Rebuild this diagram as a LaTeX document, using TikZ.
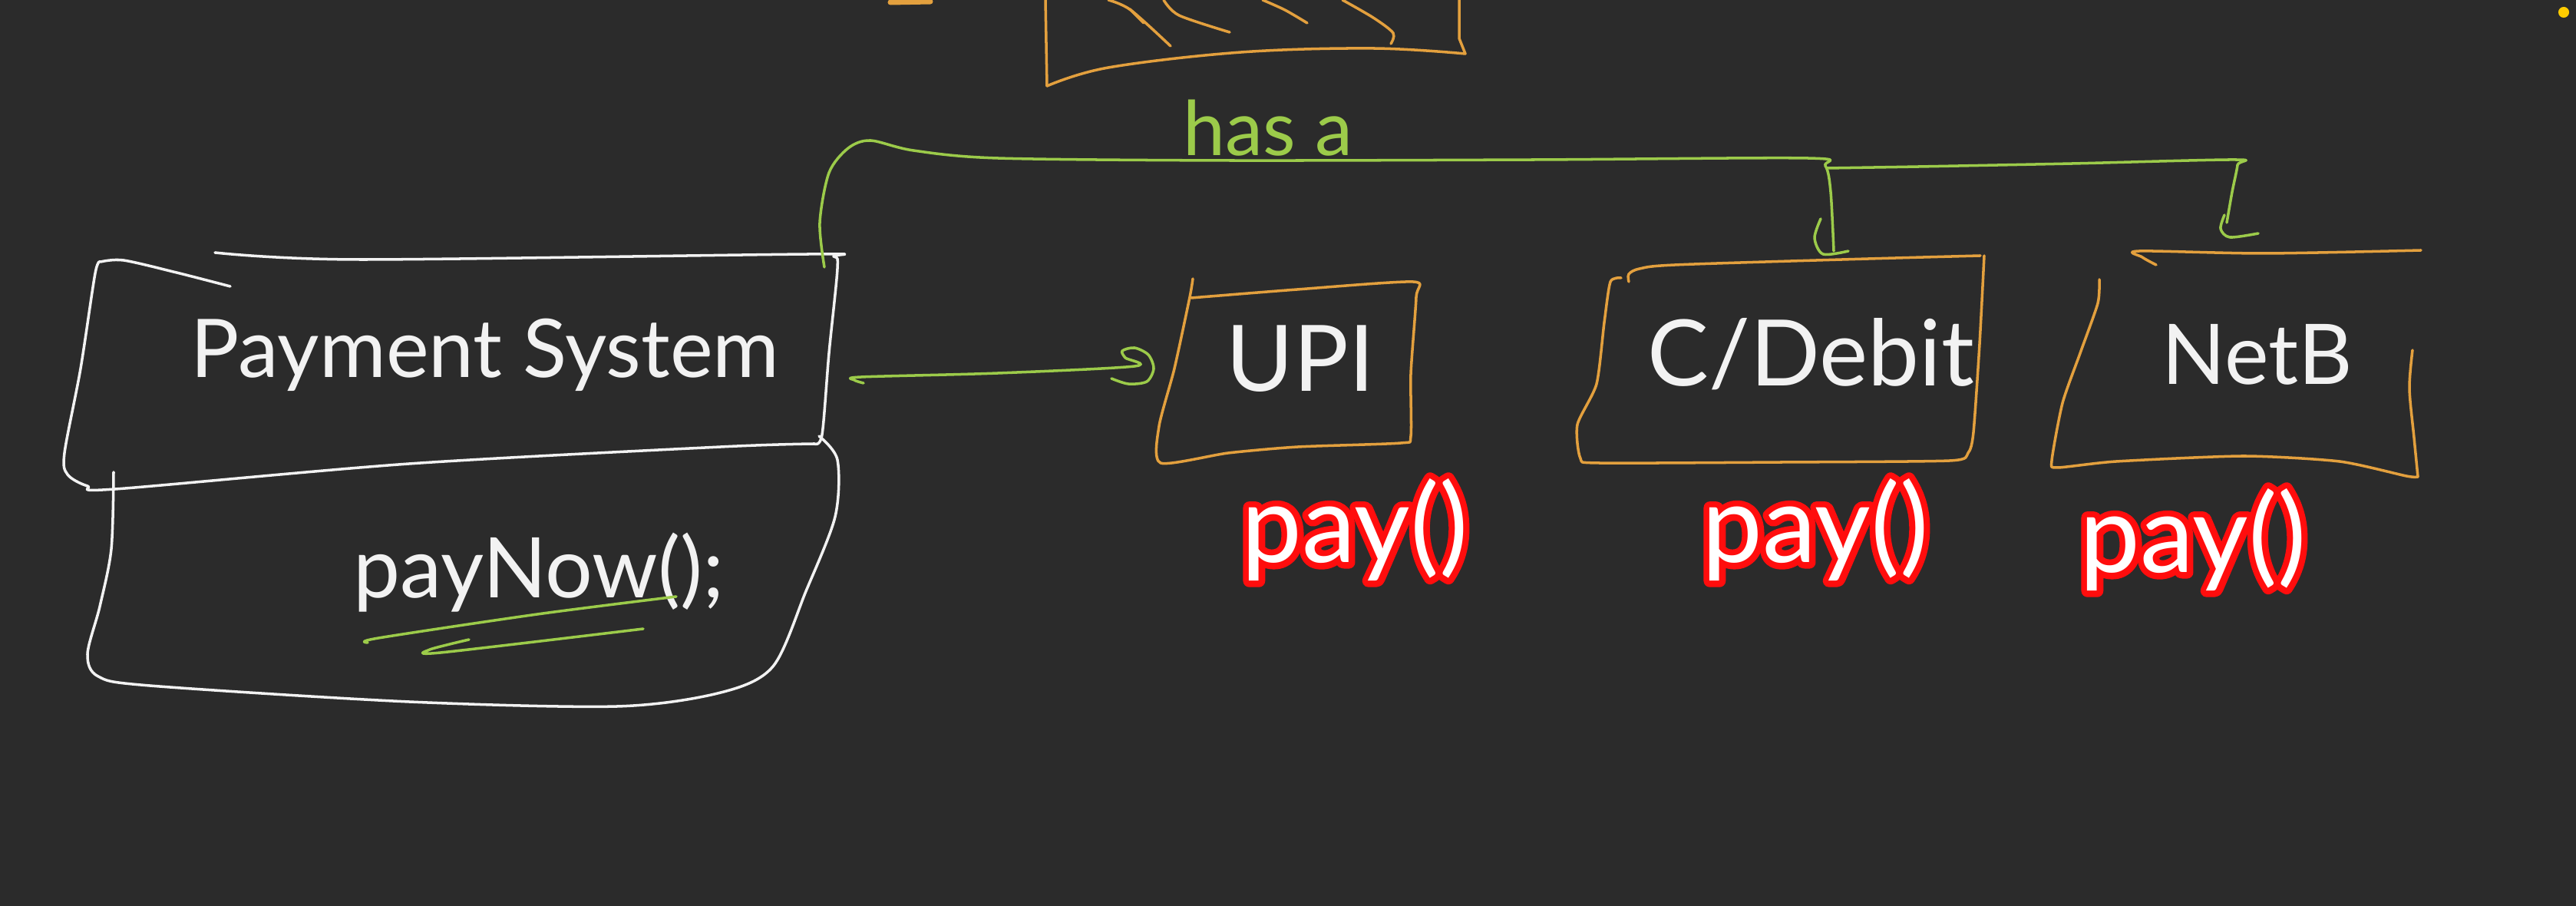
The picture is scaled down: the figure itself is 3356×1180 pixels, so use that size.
\documentclass[tikz,border=0pt]{standalone}
\usepackage{fontspec}
\setmainfont{Lato}
\usetikzlibrary{calc}
\definecolor{bg}{HTML}{2B2B2B}
\definecolor{chalk}{HTML}{F2F2F2}
\definecolor{amber}{HTML}{E3A03E}
\definecolor{lime}{HTML}{9CCB4A}
\definecolor{glowred}{HTML}{FF1010}
\definecolor{sun}{HTML}{FFCC00}
% red outline drawn under a white text
\newcommand\redhalo[1]{\special{pdf:literal direct 1 Tr 4.6 w 1 j 1 0.05 0.05 RG}#1\special{pdf:literal direct 0 Tr}}
\begin{document}
\begin{tikzpicture}[x=0.01cm,y=-0.01cm,line cap=round,line join=round,
  whiteline/.style={draw=chalk,line width=1pt},
  orangeline/.style={draw=amber,line width=1pt},
  greenline/.style={draw=lime,line width=1pt},
  chalktext/.style={text=chalk,inner sep=0pt,font=\fontsize{30}{36}\selectfont},
  greentext/.style={text=lime,inner sep=0pt,font=\fontsize{28}{34}\selectfont},
  paytxt/.style={text=white,inner sep=0pt,font=\fontsize{40}{46}\selectfont}]
\fill[bg] (0,0) rectangle (3356,1180);
\useasboundingbox (0,0) rectangle (3356,1180);

% top (cut-off) orange box
\draw[orangeline] (1362,0) -- (1364,112);
\draw[orangeline] plot[smooth,tension=0.6] coordinates {(1364,112) (1444,88) (1617,68) (1789,63) (1909,70)};
\draw[orangeline] (1901,0) -- (1901,50) -- (1909,70);
\draw[orangeline] plot[smooth] coordinates {(1444,0) (1473,13) (1525,60)};
\draw[orangeline] (1472,12) -- (1490,30);
\draw[orangeline] plot[smooth] coordinates {(1516,0) (1536,20) (1602,42)};
\draw[orangeline] plot[smooth] coordinates {(1645,0) (1674,13) (1703,30)};
\draw[orangeline] plot[smooth] coordinates {(1749,0) (1789,23) (1815,43) (1812,57)};
\draw[draw=amber,line width=2pt] (1160,3) -- (1212,2);

% label has a
\node[greentext] (hasa) at (1652,167) {has a};

% Payment System box
\node[chalktext] (ps) at (632,462) {Payment System};
\draw[whiteline] plot[smooth,tension=0.5] coordinates {(131,341) (161,339) (230,355) (300,373)};
\draw[whiteline] plot[smooth,tension=0.5] coordinates {(131,341) (124,356) (105,480) (84,590) (88,618) (114,633) (150,637) (533,604) (939,582) (1061,578)};
\draw[whiteline] plot[smooth,tension=0.5] coordinates {(1061,578) (1071,566) (1080,460) (1091,350) (1086,334) (1054,331) (466,338) (280,329)};
% payNow box
\node[chalktext,font=\fontsize{31}{36}\selectfont] (pn) at (702,746) {payNow();};
\draw[whiteline] plot[smooth,tension=0.5] coordinates {(148,615) (145,715) (130,790) (114,852) (128,881) (195,893) (533,914) (804,920) (939,902) (1007,868) (1050,770) (1088,673) (1091,599) (1067,568)};
\draw[greenline] plot[smooth,tension=0.5] coordinates {(479,837) (493,831) (700,800) (881,777)};
\draw[greenline] plot[smooth,tension=0.5] coordinates {(611,833) (560,846) (574,850) (838,819)};

% UPI box
\node[chalktext,font=\fontsize{34}{40}\selectfont] (upi) at (1694,467) {UPI};
\draw[orangeline] plot[smooth,tension=0.4] coordinates {(1554,363) (1550,387) (1530,480) (1510,555) (1512,603) (1600,590) (1691,582) (1825,577) (1838,568) (1838,487) (1845,387) (1841,367) (1690,377) (1552,388)};
\node[paytxt] (haloA) at (1765,690) {\redhalo{pay()}};
\node[paytxt] (payA) at (haloA.center) {pay()};

% C/Debit box
\node[chalktext,font=\fontsize{34}{40}\selectfont] (debit) at (2359,461) {C/Debit};
\draw[orangeline] plot[smooth,tension=0.5] coordinates {(2122,367) (2122,357) (2136,350) (2182,345) (2400,338) (2580,333)};
\draw[orangeline] plot[smooth,tension=0.4] coordinates {(2112,362) (2098,367) (2090,420) (2080,500) (2055,553) (2059,597) (2083,603) (2322,602) (2540,600) (2564,590) (2571,563) (2579,448) (2585,333)};
\node[paytxt] (haloB) at (2365,690) {\redhalo{pay()}};
\node[paytxt] (payB) at (haloB.center) {pay()};

% NetB box
\node[chalktext,font=\fontsize{31}{36}\selectfont] (netb) at (2941,462) {NetB};
\draw[orangeline] plot[smooth,tension=0.5] coordinates {(2809,345) (2791,335) (2787,327) (2950,330) (3154,326)};
\draw[orangeline] plot[smooth,tension=0.4] coordinates {(2735,364) (2733,395) (2710,460) (2687,525) (2673,600) (2680,609) (2757,601) (2923,594) (3048,601) (3135,620) (3150,621)};
\draw[orangeline] plot[smooth,tension=0.5] coordinates {(3143,456) (3139,506) (3145,570) (3150,621)};
\node[paytxt] (haloC) at (2857,703) {\redhalo{pay()}};
\node[paytxt] (payC) at (haloC.center) {pay()};

% green connectors
\coordinate (psTop) at (1074,348);
\coordinate (debitTop) at (2389,327);
\coordinate (split) at (2380,219);
\coordinate (netbTop) at (2901,290);
\draw[greenline] plot[smooth,tension=0.5] coordinates {(psTop) (1068,290) (1080,225) (1105,193) (1134,183) (1190,196) (1300,206) (1600,209) (2000,208) (2355,206) (2378,216) (2385,250) (debitTop)};
\draw[greenline] plot[smooth,tension=0.5] coordinates {(2372,285) (2364,310) (2375,331) (2408,327)};
\draw[greenline] plot[smooth,tension=0.5] coordinates {(split) (2500,217) (2700,213) (2912,208) (2915,215) (2908,250) (netbTop)};
\draw[greenline] plot[smooth,tension=0.5] coordinates {(2898,280) (2893,298) (2905,309) (2942,304)};
% Payment System -> UPI
\coordinate (arrS) at (1113,495);
\coordinate (arrE) at (1478,477);
\draw[greenline] plot[smooth,tension=0.5] coordinates {(1125,499) (arrS) (1122,491) (1300,486) (arrE) (1466,466) (1462,457) (1478,453) (1496,462) (1503,480) (1494,497) (1470,500) (1448,493)};

% yellow dot
\fill[sun] (3340,16) circle (2pt);
\end{tikzpicture}
\end{document}
